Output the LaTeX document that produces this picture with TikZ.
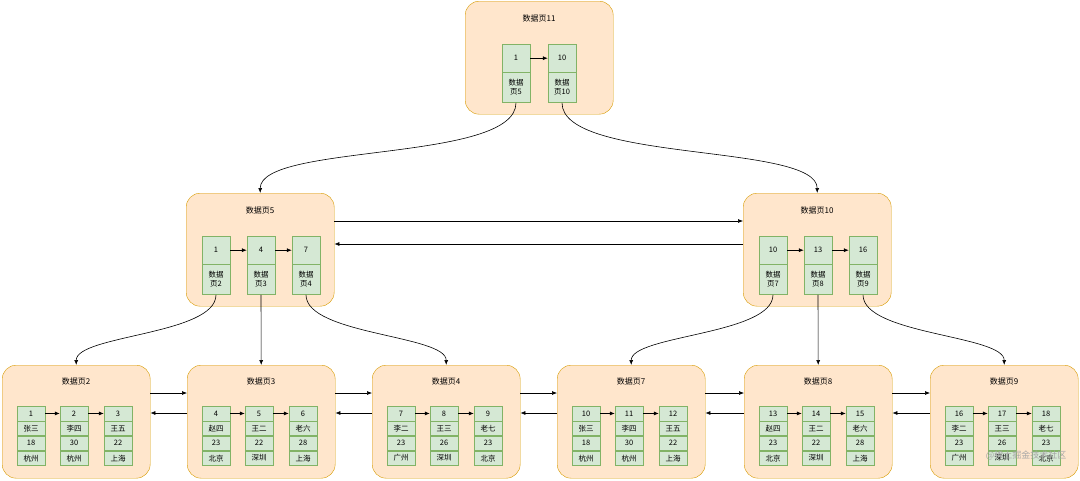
\documentclass[tikz,border=0pt]{standalone}
\usepackage{fontspec}
\setmainfont{Noto Sans CJK SC}
\usetikzlibrary{arrows.meta,positioning,calc}
\definecolor{pagefill}{HTML}{FFE6CC}
\definecolor{pageline}{HTML}{D79B00}
\definecolor{cellfill}{HTML}{D5E8D4}
\definecolor{cellline}{HTML}{82B366}
\tikzset{
  page/.style={draw=pageline, fill=pagefill, rounded corners=14pt, minimum width=148pt, minimum height=113pt, anchor=north west},
  cell/.style={draw=cellline, fill=cellfill, minimum width=28pt, inner sep=0pt, anchor=north, font=\fontsize{7.5}{9}\selectfont},
  link/.style={-{Latex[length=5pt,width=4pt]}, semithick},
  title/.style={font=\fontsize{8}{9}\selectfont}
}
% leaf page: name, left x, title, cell list
\newcommand{\leafpage}[4]{
  \node[page] (#1) at (#2,365) {};
  \node[title] at (#2+74,381) {#3};
  \foreach \k/\id/\nm/\age/\city [count=\i] in {#4}{
    \node[cell, minimum height=14.5pt] (#1c\i) at (#2+29+\k,406) {\id};
    \node[cell, minimum height=14.5pt, below=0pt of #1c\i] (#1n\i) {\nm};
    \node[cell, minimum height=14.5pt, below=0pt of #1n\i] (#1a\i) {\age};
    \node[cell, minimum height=14.5pt, below=0pt of #1a\i] {\city};
  }
  \draw[link] (#1c1) -- (#1c2);
  \draw[link] (#1c2) -- (#1c3);
}
% inner page: name, left x of first key, top y, title, key list
\newcommand{\innerpage}[6]{
  \node[page] (#1) at (#2,#3) {};
  \node[title] at (#2+74,#3+17) {#4};
  \foreach \k/\key/\child [count=\i] in {#6}{
    \node[cell, minimum height=28pt] (#1k\i) at (#2+#5+\k,#3+43) {\key};
    \node[cell, minimum height=30pt, align=center, below=0pt of #1k\i] (#1d\i) {数据\\页\child};
  }
}
\begin{document}
\begin{tikzpicture}[x=1pt, y=-1pt]
  \useasboundingbox (0,0) rectangle (1080,480);
  % root
  \innerpage{p11}{465}{1}{数据页11}{51}{0/1/5, 46/10/10}
  \draw[link] (p11k1) -- (p11k2);
  % second level
  \innerpage{p5}{186}{193}{数据页5}{30}{0/1/2, 45/4/3, 90/7/4}
  \draw[link] (p5k1) -- (p5k2);
  \draw[link] (p5k2) -- (p5k3);
  \innerpage{p10}{743}{193}{数据页10}{30}{0/10/7, 45/13/8, 90/16/9}
  \draw[link] (p10k1) -- (p10k2);
  \draw[link] (p10k2) -- (p10k3);
  % leaves
  \leafpage{p2}{2}{数据页2}{0/1/张三/18/杭州, 43/2/李四/30/杭州, 87/3/王五/22/上海}
  \leafpage{p3}{187}{数据页3}{0/4/赵四/23/北京, 43/5/王二/22/深圳, 87/6/老六/28/上海}
  \leafpage{p4}{372}{数据页4}{0/7/李二/23/广州, 43/8/王三/26/深圳, 87/9/老七/23/北京}
  \leafpage{p7}{557}{数据页7}{0/10/张三/18/杭州, 43/11/李四/30/杭州, 87/12/王五/22/上海}
  \leafpage{p8}{744}{数据页8}{0/13/赵四/23/北京, 43/14/王二/22/深圳, 87/15/老六/28/上海}
  \leafpage{p9}{930}{数据页9}{0/16/李二/23/广州, 43/17/王三/26/深圳, 87/18/老七/23/北京}
  % tree links
  \draw[link] (p11d1.south) .. controls +(0,60) and +(0,-50) .. (p5.north);
  \draw[link] (p11d2.south) .. controls +(0,60) and +(0,-50) .. (p10.north);
  \draw[link] (p5d1.south) .. controls +(0,40) and +(0,-30) .. (p2.north);
  \draw[link] (p5d2.south) -- (p3.north);
  \draw[link] (p5d3.south) .. controls +(0,40) and +(0,-30) .. (p4.north);
  \draw[link] (p10d1.south) .. controls +(0,40) and +(0,-30) .. (p7.north);
  \draw[link] (p10d2.south) -- (p8.north);
  \draw[link] (p10d3.south) .. controls +(0,40) and +(0,-30) .. (p9.north);
  % sibling links
  \draw[link] ($(p5.north east)+(0,28)$) -- ($(p10.north west)+(0,28)$);
  \draw[link] ($(p10.north west)+(0,51)$) -- ($(p5.north east)+(0,51)$);
  \foreach \a/\b in {p2/p3, p3/p4, p4/p7, p7/p8, p8/p9}{
    \draw[link] ($(\a.north east)+(0,28)$) -- ($(\b.north west)+(0,28)$);
    \draw[link] ($(\b.north west)+(0,48)$) -- ($(\a.north east)+(0,48)$);
  }
  \node[font=\fontsize{9}{10}\selectfont, text=black!35, anchor=east] (mark) at (1070,455) {@稀土掘金技术社区};
\end{tikzpicture}
\end{document}
